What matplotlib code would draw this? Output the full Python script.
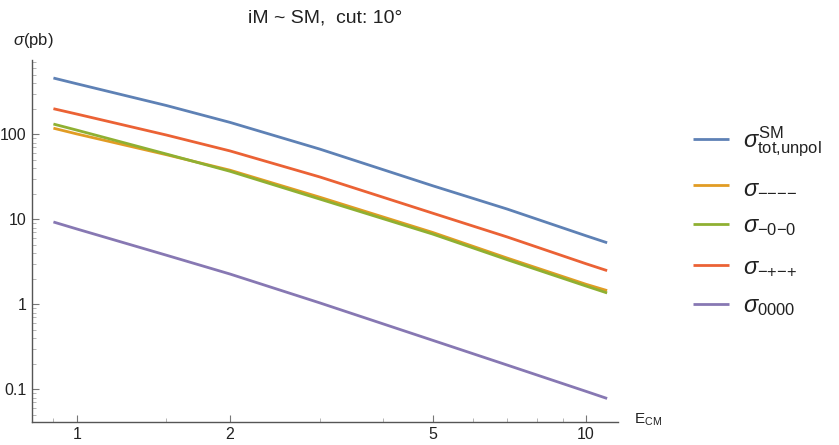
import matplotlib
matplotlib.use("Agg")
import matplotlib.pyplot as plt
from matplotlib.ticker import FixedLocator, NullFormatter, FixedFormatter

plt.rcParams['font.family'] = ['Liberation Sans', 'DejaVu Sans']
plt.rcParams['mathtext.fontset'] = 'custom'
plt.rcParams['mathtext.rm'] = 'Liberation Sans'
plt.rcParams['mathtext.it'] = 'Liberation Sans:italic'
plt.rcParams['mathtext.bf'] = 'Liberation Sans:bold'

# Data
E = [0.9, 1, 1.5, 2, 3, 5, 7, 10, 11]
sigma_tot = [459, 393, 218, 138, 67, 24.8, 13.2, 6.4, 5.3]
sigma_mmmm = [118, 101, 57.5, 37.8, 18.2, 7.0, 3.5, 1.72, 1.45]
sigma_m0m0 = [132, 112, 58.6, 36.7, 17.3, 6.7, 3.35, 1.64, 1.36]
sigma_mpmp = [200, 173, 98, 63.7, 31.5, 11.8, 6.2, 3.0, 2.49]
sigma_0000 = [9.3, 7.7, 3.78, 2.27, 1.04, 0.377, 0.193, 0.0946, 0.078]

labels = [r'$\sigma^{\text{SM}}_{\text{tot,unpol}}$',
          r'$\sigma_{\text{−−−−}}$',
          r'$\sigma_{\text{−0−0}}$',
          r'$\sigma_{\text{−+−+}}$',
          r'$\sigma_{\text{0000}}$']
colors = ['#5E81B5', '#E19C24', '#8FB032', '#EB6235', '#8778B3']
series = [sigma_tot, sigma_mmmm, sigma_m0m0, sigma_mpmp, sigma_0000]

xticks_major = [1, 2, 5, 10]
xticks_minor = [0.9, 1.5, 3, 4, 6, 7, 8, 9]
yticks_major = [0.1, 1, 10, 100]
ytick_labels = ['0.1', '1', '10', '100']

W, H = 839, 445
fig = plt.figure(figsize=(W / 100, H / 100), dpi=100)
ax = fig.add_axes([32.3 / W, 1 - 421.7 / H, (618.3 - 32.3) / W, (421.7 - 60) / H])

lines = []
for y, c, l in zip(series, colors, labels):
    ln, = ax.plot(E, y, color=c, lw=2.0, label=l, solid_capstyle='butt')
    lines.append(ln)

ax.set_xscale('log')
ax.set_yscale('log')
ax.set_xlim(0.818, 11.57)
ax.set_ylim(0.0416, 748)

for s in ['top', 'right']:
    ax.spines[s].set_visible(False)
for s in ['left', 'bottom']:
    ax.spines[s].set_color('#555555')
    ax.spines[s].set_linewidth(1.0)

ax.xaxis.set_major_locator(FixedLocator(xticks_major))
ax.xaxis.set_major_formatter(FixedFormatter([str(v) for v in xticks_major]))
ax.xaxis.set_minor_locator(FixedLocator(xticks_minor))
ax.xaxis.set_minor_formatter(NullFormatter())

ax.yaxis.set_major_locator(FixedLocator(yticks_major))
ax.yaxis.set_major_formatter(FixedFormatter(ytick_labels))
yminor = []
for dec in [0.01, 0.1, 1, 10, 100]:
    for k in range(2, 10):
        yminor.append(k * dec)
ax.yaxis.set_minor_locator(FixedLocator(yminor))
ax.yaxis.set_minor_formatter(NullFormatter())

ax.tick_params(which='major', direction='in', length=5, width=0.8, color='#777777',
               labelsize=11.5, labelcolor='#222222', pad=4)
ax.tick_params(which='minor', direction='in', length=3, width=0.6, color='#aaaaaa')

fig.text(325 / W, 1 - 18 / H, 'iM ~ SM,  cut: 10°', ha='center', va='center', fontsize=14, color='#222222')
fig.text(13 / W, 1 - 40 / H, r'$\sigma$(pb)', ha='left', va='center', fontsize=12, color='#222222')
fig.text(634 / W, 1 - 420 / H, r'E$_{\text{CM}}$', ha='left', va='center', fontsize=11, color='#222222')

fs = 17
px = fs * 100 / 72
leg = ax.legend(handles=lines, loc='upper left', bbox_to_anchor=(683.3 / W, 1 - 115 / H),
                bbox_transform=fig.transFigure, frameon=False, fontsize=fs,
                handlelength=36 / px, handletextpad=14 / px, labelspacing=0.74, borderaxespad=0)
for t in leg.get_texts():
    t.set_color('#222222')

fig.savefig('out.png', dpi=100)
